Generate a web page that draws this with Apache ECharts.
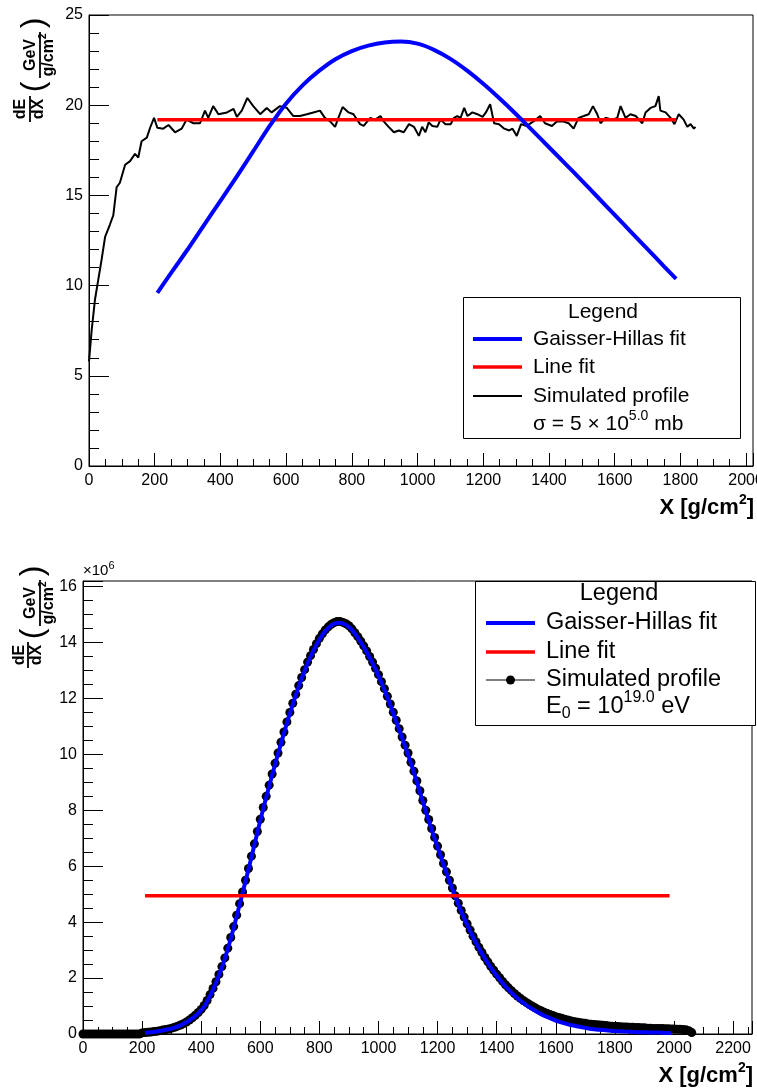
<!DOCTYPE html>
<html><head><meta charset="utf-8">
<script src="https://cdn.jsdelivr.net/npm/echarts@6/dist/echarts.min.js"></script>
<style>html,body{margin:0;padding:0;background:#fff}#c{width:757px;height:1088px}</style>
</head><body><div id="c"></div>
<script>
// ---------------- DATA ----------------
// Top panel: simulated profile (x in g/cm^2, dE/dX in GeV/(g/cm^2))
const topSimX = [0,8,18,28,38,49,64,74,84,94,110,125,140,150,160,176,186,198,208,226,242,262,282,297,318,338,353,363,378,394,420,440,450,465,482,500,521,541,556,581,602,622,642,663,683,703,718,734,749,759,772,790,805,825,836,856,871,887,897,912,928,943,958,974,989,1004,1014,1024,1034,1045,1060,1070,1085,1101,1111,1121,1131,1142,1152,1167,1182,1198,1208,1221,1233,1248,1264,1279,1289,1302,1315,1332,1353,1373,1388,1409,1424,1444,1460,1475,1490,1506,1521,1534,1547,1557,1572,1592,1608,1618,1633,1648,1664,1684,1694,1709,1724,1734,1739,1755,1770,1782,1795,1810,1821,1831,1841,1846];
const topSimY = [5.8,7.5,9.2,10.3,11.4,12.7,13.4,13.9,15.45,15.7,16.7,16.9,17.3,17.1,18.0,18.2,18.75,19.3,18.75,18.7,18.9,18.5,18.7,19.2,19.0,19.0,19.7,19.3,19.95,19.5,19.6,19.8,19.35,19.7,20.4,19.95,19.5,19.85,19.6,19.95,19.85,19.4,19.4,19.5,19.6,19.7,19.3,19.1,18.8,19.3,19.9,19.6,19.5,18.95,18.85,19.3,19.2,19.4,19.1,18.8,18.5,18.6,18.5,18.95,18.8,18.3,18.8,18.5,19.05,18.85,18.8,19.2,18.95,18.95,19.3,19.4,19.3,19.85,19.4,19.6,19.5,19.35,19.6,20.05,19.0,18.95,18.7,18.6,18.7,18.3,18.95,18.85,19.1,19.4,19.0,18.85,19.1,19.1,19.0,18.7,19.3,19.4,19.5,19.95,19.5,19.0,19.3,19.2,19.3,19.95,19.3,19.5,19.4,19.0,19.6,19.85,19.95,20.5,19.7,19.6,19.3,18.95,19.5,19.2,18.8,18.95,18.7,18.8];
// Top panel: Gaisser-Hillas fit
const topGHX = [208,250,300,350,400,450,500,550,600,650,700,750,800,850,900,950,1000,1050,1100,1150,1200,1250,1300,1350,1400,1450,1500,1550,1600,1650,1700,1750,1787];
const topGHY = [9.6,10.7,12.0,13.35,14.7,16.05,17.45,18.85,20.1,21.1,21.9,22.55,23.0,23.3,23.48,23.53,23.41,23.07,22.57,21.93,21.19,20.37,19.5,18.59,17.67,16.75,15.82,14.87,13.92,12.97,12.02,11.07,10.37];
// Top panel: line fit
const topLineX = [208, 1787];
const topLineY = [19.2, 19.2];

// Bottom panel: simulated profile, depth grid start/step (g/cm^2), values in units of 10^6 GeV/(g/cm^2)
const botSimStart = 0, botSimStep = 10;
const botSimY = [0,0,0,0,0,0,0,0,0,0,0,0,0,0,0,0,0,0,0,0,0.04,
0.05,0.06,0.07,0.09,0.1,0.12,0.14,0.16,0.18,0.21,
0.24,0.28,0.32,0.37,0.43,0.5,0.58,0.67,0.77,0.88,
1.02,1.2,1.41,1.63,1.87,2.13,2.41,2.72,3.07,3.45,
3.84,4.25,4.66,5.08,5.5,5.92,6.36,6.8,7.24,7.68,
8.1,8.5,8.9,9.3,9.68,10.05,10.43,10.8,11.16,11.5,
11.83,12.15,12.46,12.75,13.03,13.3,13.53,13.75,13.96,14.15,
14.31,14.45,14.56,14.65,14.71,14.75,14.75,14.72,14.67,14.6,
14.49,14.35,14.21,14.05,13.88,13.7,13.5,13.3,13.08,12.85,
12.6,12.35,12.08,11.8,11.51,11.22,10.92,10.62,10.33,10.05,
9.72,9.4,9.05,8.7,8.35,8.0,7.67,7.35,7.03,6.72,
6.41,6.1,5.8,5.5,5.22,4.94,4.68,4.42,4.18,3.94,
3.72,3.5,3.3,3.1,2.92,2.74,2.58,2.42,2.28,2.14,
2.01,1.88,1.76,1.65,1.55,1.45,1.36,1.28,1.2,1.13,
1.06,1.0,0.94,0.88,0.83,0.78,0.74,0.7,0.66,0.62,
0.59,0.56,0.53,0.5,0.47,0.45,0.43,0.41,0.39,0.38,
0.36,0.35,0.34,0.33,0.32,0.31,0.3,0.29,0.28,0.27,
0.27,0.26,0.25,0.25,0.24,0.24,0.23,0.23,0.22,0.22,
0.21,0.21,0.2,0.2,0.2,0.2,0.19,0.19,0.18,0.18,
0.17,0.17,0.16,0.15,0.12,0.05];
// Bottom panel: Gaisser-Hillas fit, depth grid start/step, values in 10^6
const botGHStart = 210, botGHStep = 20;
const botGHY = [0.04,0.06,0.09,0.13,0.17,0.23,0.31,0.42,0.56,0.74,
0.98,1.36,1.83,2.38,3.04,3.8,4.62,5.46,6.32,7.2,
8.06,8.86,9.64,10.39,11.12,11.79,12.42,12.99,13.49,13.92,
14.27,14.52,14.67,14.71,14.63,14.45,14.17,13.84,13.46,13.04,
12.56,12.04,11.47,10.88,10.29,9.68,9.01,8.31,7.63,6.99,
6.37,5.76,5.18,4.64,4.14,3.68,3.26,2.88,2.54,2.22,
1.95,1.7,1.48,1.28,1.11,0.96,0.83,0.71,0.61,0.52,
0.44,0.38,0.32,0.28,0.24,0.2,0.17,0.15,0.13,0.11,
0.1,0.09,0.08,0.07,0.06,0.06,0.05,0.05,0.04,0.04];
// Bottom panel: line fit (10^6)
const botLineX = [210, 1985];
const botLineY = [4.94, 4.94];

const legendTop = ['Legend','Gaisser-Hillas fit','Line fit','Simulated profile'];
const legendBot = ['Legend','Gaisser-Hillas fit','Line fit','Simulated profile'];

// ---------------- HELPERS ----------------
const FF = '"Liberation Sans", Arial, Helvetica, sans-serif';
const mctx = document.createElement('canvas').getContext('2d');
function tw(t, f){ mctx.font = f; return mctx.measureText(t).width; }
function F(size, bold){ return (bold ? 'bold ' : '') + size + 'px ' + FF; }
function T(text, x, y, font, align){
  return {type:'text', x:x, y:y, z:100, silent:true,
    style:{text:text, font:font, fill:'#000', align:align||'left', verticalAlign:'middle'}};
}
function runs(pieces, x, y, align){
  let total = 0; pieces.forEach(p => { p.w = tw(p.t, p.f); total += p.w; });
  let cx = align === 'center' ? x - total/2 : (align === 'right' ? x - total : x);
  const out = [];
  pieces.forEach(p => { out.push(T(p.t, cx, y + (p.dy||0), p.f, 'left')); cx += p.w; });
  return out;
}
function pairs(xs, ys){ return xs.map((x,i)=>[x, ys[i]]); }
function gridPairs(start, step, ys){ return ys.map((y,i)=>[start + i*step, y]); }

function yTitle(x0, y0, s){
  // local coordinates: x along text (upwards on screen), y perpendicular (rightwards on screen)
  const f1 = F(s.f1, true), f2 = F(s.f2, true), fs = F(s.fs, true);
  const ch = [];
  ch.push(T('dE', s.dl, -s.dOff, f1, 'center'));
  ch.push(T('dX', s.dl, s.dOff, f1, 'center'));
  ch.push({type:'line', shape:{x1:s.dl-13, y1:0, x2:s.dl+13, y2:0}, style:{stroke:'#000', lineWidth:1.8}});
  ch.push(T('(', s.p1, s.pY, F(s.pf, false), 'center'));
  ch.push(T(')', s.p2, s.pY, F(s.pf, false), 'center'));
  ch.push(T('GeV', s.gl, s.gBar - s.gOff1, f2, 'center'));
  ch.push({type:'line', shape:{x1:s.gl - s.gHalf, y1:s.gBar, x2:s.gl + s.gHalf, y2:s.gBar}, style:{stroke:'#000', lineWidth:1.8}});
  runs([{t:'g/cm', f:f2}, {t:'2', f:fs, dy:-s.supDy}], s.gl, s.gBar + s.gOff2, 'center').forEach(e=>ch.push(e));
  ch.forEach(e => { e.z = 100; });
  return {type:'group', x:x0, y:y0, rotation:Math.PI/2, z:100, children:ch};
}

function axisCfg(o){
  return Object.assign({
    type:'value',
    axisLine:{show:true, onZero:false, lineStyle:{color:'#000', width:1}},
    axisTick:{show:true, inside:true, length:o.tl, lineStyle:{color:'#000', width:1}},
    minorTick:{show:true, splitNumber:o.ms, length:o.ml, lineStyle:{color:'#000', width:1}},
    splitLine:{show:false}, minorSplitLine:{show:false},
    axisLabel:{fontSize:16, color:'#000', fontFamily:FF, margin:o.lm,
      formatter: v => (Math.abs(v / o.step - Math.round(v / o.step)) < 1e-6 ? String(Math.round(v*1000)/1000) : '')}
  }, o.extra);
}

// ---------------- GRAPHICS (legends, titles) ----------------
const g = [];
const LF1 = F(21), LF2 = F(23.5);
// Top legend
g.push({type:'rect', z:99, shape:{x:463.5, y:297.5, width:277, height:141}, style:{fill:'#fff', stroke:'#000', lineWidth:1}});
g.push(T(legendTop[0], 603, 312, LF1, 'center'));
g.push({type:'line', z:100, shape:{x1:473, y1:339, x2:522, y2:339}, style:{stroke:'#0000ff', lineWidth:4}});
g.push(T(legendTop[1], 533, 339, LF1));
g.push({type:'line', z:100, shape:{x1:473, y1:367, x2:522, y2:367}, style:{stroke:'#ff0000', lineWidth:3.5}});
g.push(T(legendTop[2], 533, 367, LF1));
g.push({type:'line', z:100, shape:{x1:473, y1:396, x2:522, y2:396}, style:{stroke:'#000', lineWidth:2}});
g.push(T(legendTop[3], 533, 396, LF1));
runs([{t:'\u03c3 = 5 \u00d7 10', f:LF1}, {t:'5.0', f:F(14), dy:-8}, {t:' mb', f:LF1}], 533, 424, 'left').forEach(e=>g.push(e));

// Bottom legend
g.push({type:'rect', z:99, shape:{x:475.5, y:581.5, width:280, height:144}, style:{fill:'#fff', stroke:'#000', lineWidth:1}});
g.push(T(legendBot[0], 619, 594, LF2, 'center'));
g.push({type:'line', z:100, shape:{x1:486, y1:623, x2:535, y2:623}, style:{stroke:'#0000ff', lineWidth:4}});
g.push(T(legendBot[1], 546, 623, LF2));
g.push({type:'line', z:100, shape:{x1:486, y1:652, x2:535, y2:652}, style:{stroke:'#ff0000', lineWidth:3.5}});
g.push(T(legendBot[2], 546, 652, LF2));
g.push({type:'line', z:100, shape:{x1:486, y1:680, x2:535, y2:680}, style:{stroke:'#000', lineWidth:1}});
g.push({type:'circle', z:101, shape:{cx:510.5, cy:680, r:4.5}, style:{fill:'#000'}});
g.push(T(legendBot[3], 546, 680, LF2));
runs([{t:'E', f:LF2}, {t:'0', f:F(16), dy:7}, {t:' = 10', f:LF2}, {t:'19.0', f:F(16), dy:-9}, {t:' eV', f:LF2}], 546, 707, 'left').forEach(e=>g.push(e));

// x-axis titles
runs([{t:'X [g/cm', f:F(22,true)}, {t:'2', f:F(14,true), dy:-8}, {t:']', f:F(22,true)}], 754, 508, 'right').forEach(e=>g.push(e));
runs([{t:'X [g/cm', f:F(22,true)}, {t:'2', f:F(14,true), dy:-8}, {t:']', f:F(22,true)}], 753, 1076, 'right').forEach(e=>g.push(e));
// x10^6
runs([{t:'\u00d710', f:F(15)}, {t:'6', f:F(11), dy:-5}], 83, 571, 'left').forEach(e=>g.push(e));

// y-axis titles
g.push(yTitle(30, 123, {f1:16, f2:16, fs:10, dl:14, dOff:9, p1:36, p2:100, pY:4, pf:32, gl:68, gBar:10, gOff1:9, gOff2:9, gHalf:23, supDy:6}));
g.push(yTitle(28, 668, {f1:16, f2:16, fs:10, dl:13, dOff:8.5, p1:34, p2:97, pY:5, pf:32, gl:65, gBar:12, gOff1:9, gOff2:9, gHalf:23, supDy:6}));

// ---------------- CHART ----------------
const chart = echarts.init(document.getElementById('c'), null, {renderer:'canvas'});
chart.setOption({
  animation:false,
  backgroundColor:'#fff',
  textStyle:{fontFamily:FF},
  grid:[
    {left:89, top:15, width:664, height:451, show:true, borderColor:'#000', borderWidth:1, backgroundColor:'transparent', containLabel:false, outerBoundsMode:'none'},
    {left:83, top:581, width:669, height:453, show:true, borderColor:'#000', borderWidth:1, backgroundColor:'transparent', containLabel:false, outerBoundsMode:'none'}
  ],
  xAxis:[
    axisCfg({tl:13, ms:4, ml:7, lm:7, step:200, extra:{gridIndex:0, min:0, max:2021, interval:200}}),
    axisCfg({tl:13, ms:4, ml:7, lm:7, step:200, extra:{gridIndex:1, min:0, max:2264, interval:200}})
  ],
  yAxis:[
    axisCfg({tl:20, ms:5, ml:10, lm:6, step:5, extra:{gridIndex:0, min:0, max:25, interval:5}}),
    axisCfg({tl:20, ms:4, ml:10, lm:6, step:2, extra:{gridIndex:1, min:0, max:16.2, interval:2}})
  ],
  series:[
    {type:'line', name:'Simulated profile', xAxisIndex:0, yAxisIndex:0, data:pairs(topSimX, topSimY), showSymbol:false, silent:true, z:2,
      lineStyle:{color:'#000', width:2}, itemStyle:{color:'#000'}},
    {type:'line', name:'Line fit', xAxisIndex:0, yAxisIndex:0, data:pairs(topLineX, topLineY), showSymbol:false, silent:true, z:3,
      lineStyle:{color:'#ff0000', width:3.5}, itemStyle:{color:'#ff0000'}},
    {type:'line', name:'Gaisser-Hillas fit', xAxisIndex:0, yAxisIndex:0, data:pairs(topGHX, topGHY), showSymbol:false, silent:true, smooth:0.2, z:4,
      lineStyle:{color:'#0000ff', width:4}, itemStyle:{color:'#0000ff'}},

    {type:'line', name:'Simulated profile', xAxisIndex:1, yAxisIndex:1, data:gridPairs(botSimStart, botSimStep, botSimY), silent:true, z:2,
      showSymbol:true, symbol:'circle', symbolSize:9, lineStyle:{color:'#000', width:1}, itemStyle:{color:'#000'}},
    {type:'line', name:'Gaisser-Hillas fit', xAxisIndex:1, yAxisIndex:1, data:gridPairs(botGHStart, botGHStep, botGHY), showSymbol:false, silent:true, smooth:0.3, z:3,
      lineStyle:{color:'#0000ff', width:4}, itemStyle:{color:'#0000ff'}},
    {type:'line', name:'Line fit', xAxisIndex:1, yAxisIndex:1, data:pairs(botLineX, botLineY), showSymbol:false, silent:true, z:4,
      lineStyle:{color:'#ff0000', width:3.5}, itemStyle:{color:'#ff0000'}}
  ],
  graphic:g
});
</script></body></html>
